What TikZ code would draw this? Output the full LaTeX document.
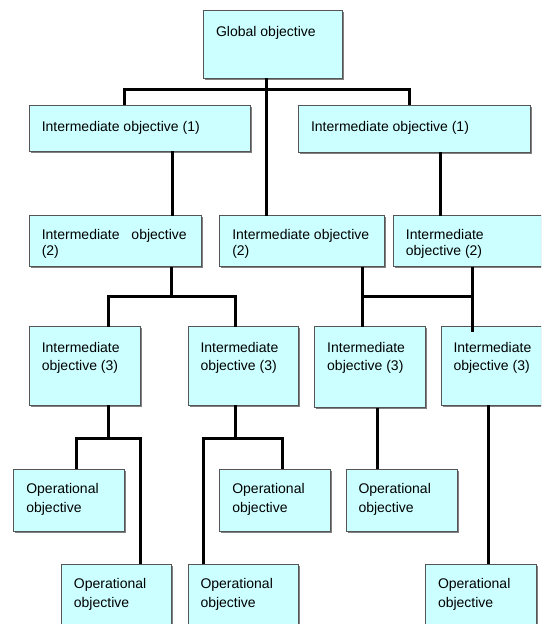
\documentclass[tikz,border=0pt]{standalone}
\usepackage{fontspec}
\setmainfont{Liberation Sans}
\usetikzlibrary{shadows,calc}
\definecolor{objfill}{HTML}{CCFFFF}
\definecolor{objedge}{HTML}{555555}
% Fixed-size text block: [first baseline]{width}{height}{text}
\newcommand{\objtxt}[4][25pt]{\parbox[b][#3][t]{#2}{\fontsize{14}{18.5}\selectfont\raggedright\leftskip=12.5pt\relax\rule{0pt}{#1}#4}}
\begin{document}
\begin{tikzpicture}[x=1pt,y=-1pt,
  obj/.style={draw=objedge, line width=1pt, fill=objfill, inner sep=0pt, outer sep=0pt,
    anchor=north west,
    drop shadow={shadow xshift=1.5pt, shadow yshift=-1.5pt, fill=black!50, opacity=1}},
  link/.style={line width=3pt, black, line join=miter}]
\path[use as bounding box] (0,0) rectangle (541,624);
\clip (0,0) rectangle (541,624);

% objectives
\node[obj] (g)  at (203.6,10)    {\objtxt[26.5pt]{138.7pt}{68.3pt}{Global objective}};
\node[obj] (a1) at (29.3,105)    {\objtxt[26.5pt]{221.6pt}{46pt}{Intermediate objective (1)}};
\node[obj] (a2) at (298.5,105)   {\objtxt[26.5pt]{232.2pt}{47pt}{Intermediate objective (1)}};
\node[obj] (b1) at (29.3,215.7)  {\objtxt[24pt]{172.6pt}{51pt}{\baselineskip=16pt Intermediate\hspace{8pt} objective\\(2)}};
\node[obj] (b2) at (219.8,215.7) {\objtxt[24pt]{164.2pt}{51pt}{\baselineskip=16pt Intermediate objective\\(2)}};
\node[obj] (b3) at (393.4,215.7) {\objtxt[24pt]{170pt}{51pt}{\baselineskip=16pt Intermediate\\objective (2)}};
\node[obj] (c1) at (29.3,326.5)  {\objtxt[25.5pt]{111pt}{78.5pt}{Intermediate\\objective (3)}};
\node[obj] (c2) at (188,326.5)   {\objtxt[25.5pt]{110.5pt}{78.5pt}{Intermediate\\objective (3)}};
\node[obj] (c3) at (314.7,326.5) {\objtxt[25.5pt]{110.3pt}{81pt}{Intermediate\\objective (3)}};
\node[obj] (c4) at (441,326.5)   {\objtxt[25.5pt]{120pt}{78.5pt}{Intermediate\\objective (3)}};
\node[obj] (d1) at (13.8,469)    {\objtxt[24.5pt]{110.8pt}{62pt}{Operational\\objective}};
\node[obj] (d2) at (61.4,564)    {\objtxt[24.5pt]{110.4pt}{70pt}{Operational\\objective}};
\node[obj] (d3) at (219.8,469)   {\objtxt[24.5pt]{110.4pt}{62pt}{Operational\\objective}};
\node[obj] (d4) at (188,564)     {\objtxt[24.5pt]{110.5pt}{70pt}{Operational\\objective}};
\node[obj] (d5) at (346,469)     {\objtxt[24.5pt]{111.2pt}{62pt}{Operational\\objective}};
\node[obj] (d6) at (425.5,564)   {\objtxt[24.5pt]{111.1pt}{70pt}{Operational\\objective}};

% junction points
\coordinate (t0) at (266.7,89.3);
\coordinate (ta) at (124,89.3);
\coordinate (tb) at (409.6,89.3);
\coordinate (xa) at (172.3,0);
\coordinate (xr) at (440.6,0);
\coordinate (jb)  at (171.8,296);
\coordinate (jbl) at (108.7,296);
\coordinate (jbr) at (235.3,296);
\coordinate (jc)  at (362.3,296);
\coordinate (jd)  at (472,296);
\coordinate (k1)  at (108.5,438.3);
\coordinate (k1l) at (76.6,438.3);
\coordinate (k1r) at (140.1,438.3);
\coordinate (k2)  at (235.3,438.3);
\coordinate (k2l) at (203.6,438.3);
\coordinate (k2r) at (282.3,438.3);
\coordinate (k3)  at (377.8,0);
\coordinate (k4)  at (488.3,0);

% connectors
\draw[link] (g.south -| t0) -- (b2.north -| t0);
\draw[link] (a1.north -| ta) -- (ta) -- (tb) -- (a2.north -| tb);
\draw[link] (a1.south -| xa) -- (b1.north -| xa);
\draw[link] (a2.south -| xr) -- (b3.north -| xr);

\draw[link] (b1.south -| jb) -- (jb);
\draw[link] (c1.north -| jbl) -- (jbl) -- (jbr) -- (c2.north -| jbr);
\draw[link] (b2.south -| jc) -- (c3.north -| jc);
\draw[link] (jc) -- (jd);
\draw[link] (b3.south -| jd) -- ($(c4.north -| jd)+(0,5)$);

\draw[link] (c1.south -| k1) -- (k1);
\draw[link] (d1.north -| k1l) -- (k1l) -- (k1r) -- (d2.north -| k1r);
\draw[link] (c2.south -| k2) -- (k2);
\draw[link] (d4.north -| k2l) -- (k2l) -- (k2r) -- (d3.north -| k2r);
\draw[link] (c3.south -| k3) -- (d5.north -| k3);
\draw[link] (c4.south -| k4) -- (d6.north -| k4);
\end{tikzpicture}
\end{document}
